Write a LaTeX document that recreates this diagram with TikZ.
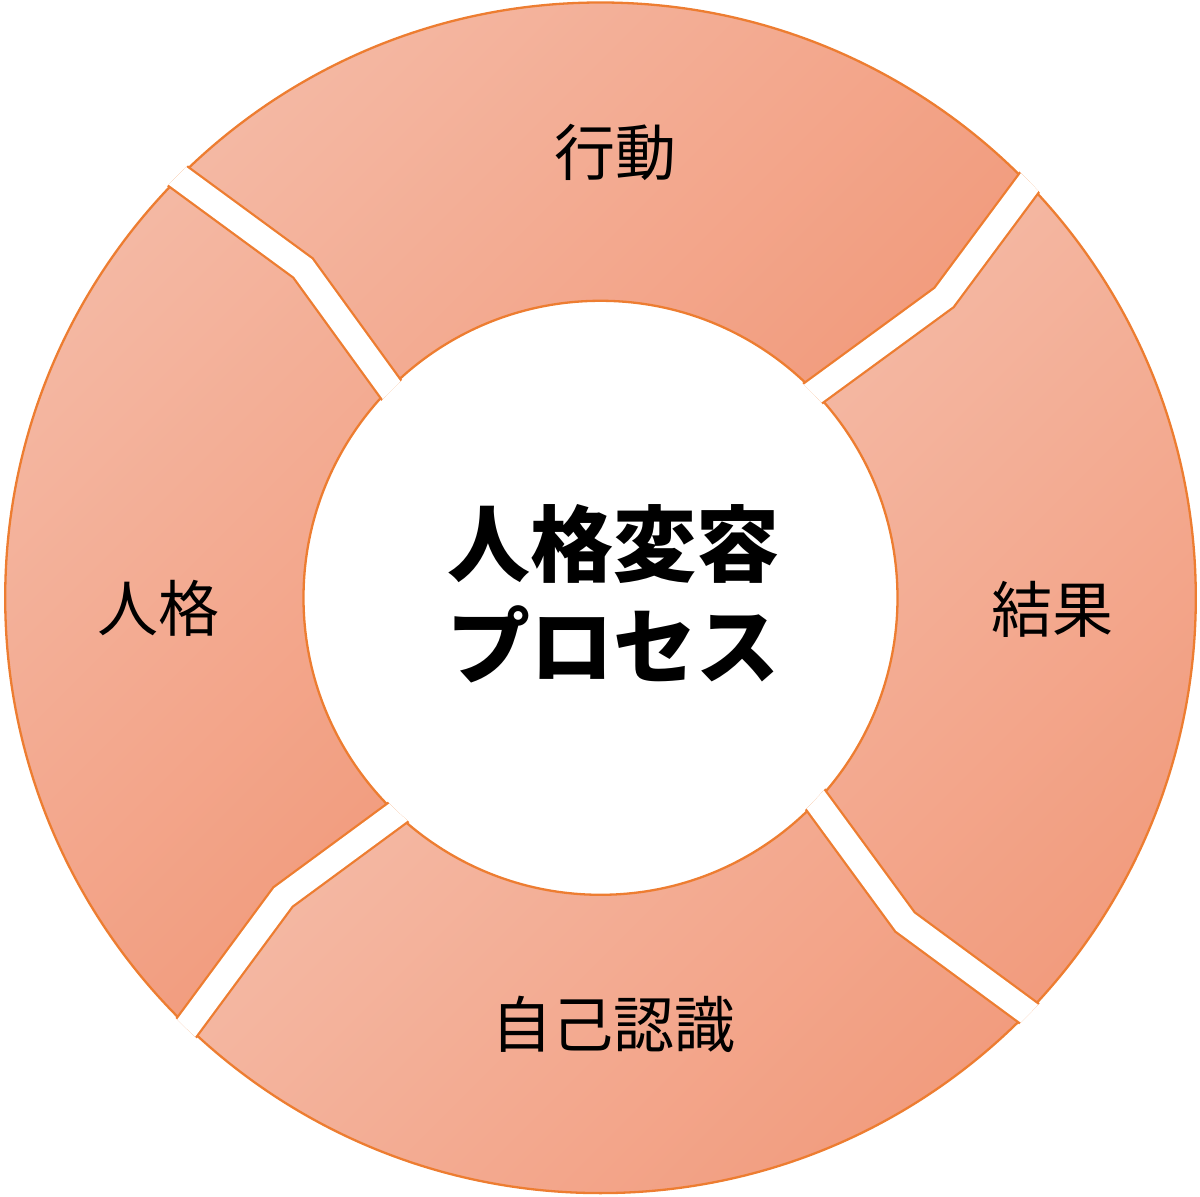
\documentclass[tikz,border=0pt]{standalone}
\usepackage{fontspec}
\newfontfamily\cjk{Noto Sans CJK JP}
\usetikzlibrary{calc}
\definecolor{ringorange}{HTML}{ED7D31}
\definecolor{seglight}{HTML}{F4B8A3}
\definecolor{segdark}{HTML}{F29C7E}
\tikzset{
  segshade/.style={top color=seglight, bottom color=segdark, shading angle=45},
  gapline/.style={draw=ringorange, line width=1.15pt, double=white, double distance=12.3pt, line join=miter},
  rimline/.style={draw=ringorange, line width=1.15pt},
  lbl/.style={font={\cjk\fontsize{30.5}{36}\selectfont}, inner sep=0pt, text=black},
  ctr/.style={font={\cjk\bfseries\fontsize{41.5}{51}\selectfont}, inner sep=0pt, align=center, text=black}
}
\begin{document}
\begin{tikzpicture}[x=0.5pt,y=-0.5pt]
\useasboundingbox (0,0) rectangle (1200,1197);
\coordinate (C) at (600.5,597.8);
\def\Rout{595.3}
\def\Rin{297}
% gap mid polylines
\coordinate (TLo) at (179,177);   \coordinate (TLb) at (303,268);   \coordinate (TLi) at (390,388);
\coordinate (TRo) at (1029,183);  \coordinate (TRb) at (944,297.5); \coordinate (TRi) at (815.5,391.5);
\coordinate (BRo) at (1028.5,1013); \coordinate (BRb) at (905,922); \coordinate (BRi) at (817.5,802.5);
\coordinate (BLo) at (187,1027);  \coordinate (BLb) at (283,897);   \coordinate (BLi) at (396.5,813.5);
\foreach \g in {TL,TR,BR,BL}{
  \coordinate (\g e) at ($(\g b)!1.6!(\g o)$);
  \coordinate (\g n) at ($(\g b)!1.6!(\g i)$);
}
\coordinate (FTL) at (-400,-400); \coordinate (FTR) at (1600,-400);
\coordinate (FBR) at (1600,1600); \coordinate (FBL) at (-400,1600);
% top segment
\begin{scope}
  \clip (C) -- (TLi) -- (TLb) -- (TLe) -- (FTL) -- (FTR) -- (TRe) -- (TRb) -- (TRi) -- cycle;
  \begin{scope}[even odd rule]
  \clip (C) circle[radius=\Rout] (C) circle[radius=\Rin];
  \shade[segshade] (179,2) rectangle (1029,391);
  \end{scope}
\end{scope}
% right segment
\begin{scope}
  \clip (C) -- (TRi) -- (TRb) -- (TRe) -- (FTR) -- (FBR) -- (BRe) -- (BRb) -- (BRi) -- cycle;
  \begin{scope}[even odd rule]
  \clip (C) circle[radius=\Rout] (C) circle[radius=\Rin];
  \shade[segshade] (815,183) rectangle (1196,1013);
  \end{scope}
\end{scope}
% bottom segment
\begin{scope}
  \clip (C) -- (BRi) -- (BRb) -- (BRe) -- (FBR) -- (FBL) -- (BLe) -- (BLb) -- (BLi) -- cycle;
  \begin{scope}[even odd rule]
  \clip (C) circle[radius=\Rout] (C) circle[radius=\Rin];
  \shade[segshade] (187,802) rectangle (1028,1194);
  \end{scope}
\end{scope}
% left segment
\begin{scope}
  \clip (C) -- (BLi) -- (BLb) -- (BLe) -- (FBL) -- (FTL) -- (TLe) -- (TLb) -- (TLi) -- cycle;
  \begin{scope}[even odd rule]
  \clip (C) circle[radius=\Rout] (C) circle[radius=\Rin];
  \shade[segshade] (5,177) rectangle (396,1027);
  \end{scope}
\end{scope}
% rims
\draw[rimline] (C) circle[radius=\Rout];
\draw[rimline] (C) circle[radius=\Rin];
% gaps
\begin{scope}[even odd rule]
  \clip (C) circle[radius=\Rout+2.3] (C) circle[radius=\Rin-2.3];
  \foreach \g in {TL,TR,BR,BL}{
    \draw[gapline] (\g e) -- (\g b) -- (\g n);
  }
\end{scope}
% labels
\node[lbl] (act) at (615,152) {行動};
\node[lbl] (res) at (1052,609) {結果};
\node[lbl] (self) at (613.5,1024) {自己認識};
\node[lbl] (pers) at (158,608) {人格};
\node[ctr] (title) at (613.5,594) {人格変容\\プロセス};
\end{tikzpicture}
\end{document}
